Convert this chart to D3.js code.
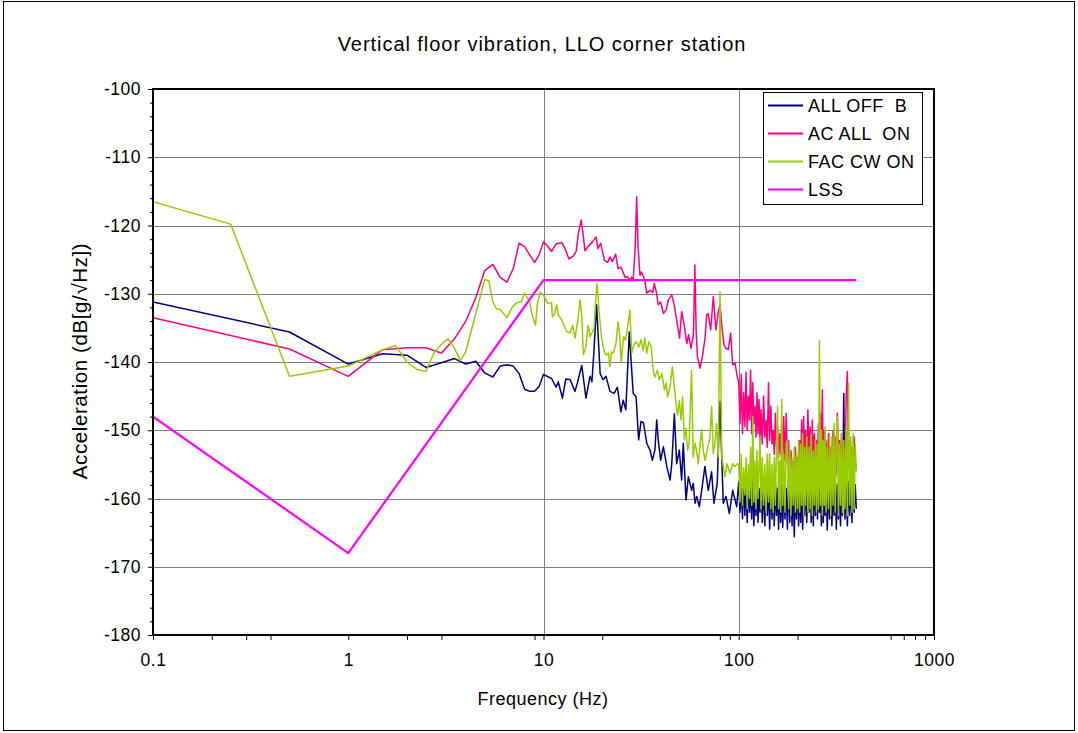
<!DOCTYPE html>
<html><head><meta charset="utf-8">
<script src="https://cdn.jsdelivr.net/npm/d3@7"></script>
<style>
body{margin:0;background:#fff;}
text{font-family:"Liberation Sans",Arial,sans-serif;fill:#000;}
</style>
</head><body>
<svg id="c" width="1078" height="733"></svg>
<script>
// ---------- DATA ----------
const seriesNames = ["ALL OFF  B", "AC ALL  ON", "FAC CW ON", "LSS"];
const seriesColors = ["#000080", "#FF0080", "#99CC00", "#FF00FF"];

// ALL OFF B (0.1 - 100 Hz)
const offF = [0.1,0.5,1,1.5,2,2.5,3,3.5,4,4.5,5,5.5,6,6.5,7,7.5,8,8.5,9,9.5,10,10.6,11,11.6,11.9,12.5,13,13.7,14.5,14.9,15.7,16.5,17.3,17.7,18.1,18.7,19.5,20.2,20.9,21.9,23,23.9,24.9,25.6,26.4,27.5,28.8,29.8,30.7,31.6,32.5,33.8,35.1,36.1,37.2,38,38.7,39.8,41.1,42.8,44.5,45.4,46.8,48.1,49.6,51,52,53.7,55.2,57.4,58.5,59.7,60.9,62.8,64.6,67.1,69.8,72.6,74.6,77.6,80.1,83.3,86,89.5,93.1,97.6];
const offV = [-131.2,-135.6,-140.3,-138.8,-139.0,-140.8,-140.1,-139.5,-140.3,-139.9,-141.6,-142.2,-140.6,-140.4,-140.6,-141.7,-144.0,-144.3,-144.3,-143.6,-141.8,-142.2,-142.4,-143.7,-142.9,-145.3,-142.5,-142.6,-144.3,-143.1,-140.5,-145.3,-142.1,-142.9,-138.7,-131.6,-141.7,-142.6,-142.1,-144.3,-144.6,-143.7,-147.3,-145.6,-147.0,-135.6,-144.6,-145.1,-151.4,-148.7,-148.9,-151.9,-152.9,-154.4,-152.9,-148.5,-151.4,-154.4,-152.4,-155.3,-157.3,-154.9,-147.6,-154.9,-152.9,-157.3,-151.9,-160.2,-156.8,-158.8,-157.8,-160.7,-159.7,-161.2,-158.8,-155.3,-158.8,-156.1,-160.7,-157.8,-145.8,-160.7,-159.7,-162.2,-158.8,-161.2];

// AC ALL ON (0.1 - 100 Hz)
const acF = [0.1,0.5,1,1.5,2,2.5,3,3.5,4,4.5,5,5.5,6,6.5,7,7.5,8,8.5,9,9.5,10,10.4,11,11.6,12.4,12.9,13.5,14.2,14.7,15.1,15.6,16,16.3,16.9,17.8,18.6,19,19.6,20,20.5,21.3,21.9,22.5,23.4,24.1,24.9,25.6,26.2,26.9,27.6,28.3,28.8,29.5,30,30.5,31.2,31.7,33,33.8,35.1,36.3,36.9,37.8,38.7,39.8,41.1,42.5,43.6,45.4,46.7,47.9,49.8,51,52.7,54.2,55.3,57,58.6,59.6,60.5,61.4,63.3,65.3,67.2,68.5,69.8,71.8,74.1,76.4,78.6,80.2,82,84,86,88.3,90.9,93.1,95.7,98.4];
const acV = [-133.5,-138.1,-142.1,-138.2,-137.9,-137.9,-138.7,-136.6,-134.0,-130.6,-126.6,-125.7,-127.6,-128.3,-126.3,-122.6,-123.1,-124.3,-125.4,-124.3,-122.4,-122.9,-123.8,-122.7,-122.5,-123.4,-124.9,-124.5,-123.8,-121.1,-119.2,-121.6,-123.7,-123.1,-122.4,-121.7,-123.4,-122.6,-123.6,-125.1,-125.4,-124.6,-125.3,-124.2,-126.3,-126.1,-126.9,-127.6,-127.5,-128.0,-127.6,-128.0,-123.1,-115.8,-123.1,-127.3,-126.8,-128.0,-129.9,-129.5,-129.8,-128.5,-129.7,-131.6,-131.2,-132.9,-132.4,-130.9,-130.2,-131.6,-133.6,-136.5,-132.6,-134.8,-137.3,-136.0,-138.0,-136.0,-125.8,-135.3,-139.2,-140.9,-139.0,-136.5,-133.1,-132.9,-135.3,-130.4,-135.3,-132.6,-131.6,-134.8,-137.5,-138.0,-138.2,-135.8,-140.4,-140.2,-142.2];

// FAC CW ON (0.1 - 100 Hz)
const fcF = [0.1,0.25,0.5,1,1.5,1.75,2,2.25,2.5,2.75,3,3.25,3.5,3.75,4,4.5,5,5.25,5.5,5.75,6,6.5,6.9,7.3,7.7,8,8.5,8.7,9.1,9.3,9.6,10,10.5,11,11.1,11.4,11.7,11.9,12.4,12.8,13.2,13.7,14.1,14.5,15,15.4,15.7,16,16.5,16.9,17.3,17.8,18.2,18.5,18.8,19.3,19.8,20.4,20.9,21.5,21.9,22.3,22.8,23.5,24.1,24.6,25,25.7,26.3,27,27.7,28.3,29,29.9,30.8,31.6,32.4,33,33.8,34.6,35.6,36.5,37.2,38.3,39.2,40.4,41.6,42.5,43.2,44.5,45.7,46.8,47.7,48.6,49.6,50.6,51.6,52.6,53.6,54.7,55.7,57.3,58.4,59.7,60.8,62,64.5,65.8,67.2,69,71.2,72.6,74,75.5,77,78.6,80.2,81.8,83.3,85,87,90.2,93.1,95.7,98.4];
const fcV = [-116.5,-119.8,-142.1,-140.6,-138.2,-137.6,-140.0,-141.1,-141.4,-138.6,-137.4,-136.6,-138.0,-139.8,-138.5,-132.9,-127.9,-128.1,-131.2,-132.2,-132.3,-133.5,-132.0,-131.3,-131.2,-129.9,-131.2,-132.9,-134.6,-131.6,-129.8,-130.2,-131.4,-131.3,-133.4,-132.9,-131.6,-133.1,-133.8,-134.8,-135.6,-135.7,-134.6,-136.5,-133.8,-130.9,-133.1,-138.9,-137.8,-134.6,-136.3,-135.6,-134.8,-130.9,-128.5,-132.9,-136.3,-138.3,-139.0,-138.7,-140.7,-138.5,-138.7,-137.3,-134.1,-136.3,-140.0,-136.3,-136.8,-134.8,-132.4,-138.7,-137.5,-137.0,-137.8,-136.7,-138.3,-136.5,-138.7,-137.0,-137.8,-141.4,-142.2,-141.2,-142.6,-141.7,-144.1,-143.1,-145.1,-143.6,-140.7,-143.6,-146.1,-147.8,-145.6,-148.5,-145.1,-151.4,-149.7,-152.9,-151.9,-141.2,-153.9,-151.9,-152.9,-154.9,-149.9,-152.9,-154.4,-152.9,-150.9,-146.5,-153.4,-151.9,-149.0,-153.9,-129.7,-153.9,-155.3,-156.8,-154.9,-156.3,-154.9,-155.3,-154.9];

// High band (100 - 400 Hz), frequencies shared by the three measured series
const hiF = [100,101.5,103,104.5,106,107.5,109,110.5,112,113.5,115,116.5,118,119.5,121,122.5,124,125.5,127,128.5,130,
  132,134,136,138,140,142,144,146,148,150,152,154,156,158,160,162,164,166,168,170,
  172.5,175,177.5,180,182.5,185,187.5,190,192.5,195,197.5,200,202.5,205,207.5,210,212.5,215,217.5,220,
  223,226,229,232,235,238,241,244,247,250,253,256,259,262,265,268,271,274,277,280,
  284,288,292,296,300,304,308,312,316,320,324,328,332,336,340,
  345,350,355,360,365,370,375,380,385,390,395,400];
const offHiV = [-157.5,-162.0,-158.5,-163.0,-157.0,-162.5,-158.0,-163.5,-157.5,-162.0,-158.5,-163.0,-157.0,-164.0,-158.0,-162.5,-157.5,-163.5,-158.5,-162.0,-157.0,
  -163.5,-158.0,-164.0,-157.5,-162.5,-158.5,-164.5,-157.0,-163.0,-158.0,-164.0,-157.5,-162.5,-158.5,-164.5,-157.0,-163.5,-158.0,-164.2,-157.5,
  -163.0,-158.5,-164.5,-157.0,-163.5,-158.0,-164.0,-157.5,-165.6,-158.5,-163.0,-157.0,-164.0,-158.0,-163.5,-157.5,-164.5,-158.5,-162.5,-157.0,
  -163.5,-158.0,-162.0,-157.5,-163.5,-158.5,-164.0,-157.0,-162.5,-158.0,-163.0,-157.5,-162.0,-158.5,-164.0,-157.0,-163.5,-158.0,-162.5,-157.5,
  -164.6,-158.0,-163.0,-157.5,-164.0,-158.5,-162.5,-157.0,-164.5,-158.0,-163.0,-157.5,-164.0,-158.5,-162.5,
  -144.6,-163.0,-158.0,-164.0,-157.5,-162.5,-158.0,-163.5,-157.5,-162.0,-158.0,-161.5];
const acHiV = [-143.0,-149.0,-141.8,-150.5,-144.5,-149.5,-141.5,-150.0,-145.0,-148.5,-141.2,-150.5,-143.0,-149.0,-146.5,-151.0,-144.5,-150.5,-145.5,-151.5,-147.0,
  -152.0,-145.0,-151.0,-148.5,-152.5,-143.0,-151.5,-146.5,-152.0,-150.0,-153.5,-147.5,-152.5,-149.5,-154.0,-150.5,-153.5,-149.0,-155.0,-148.0,
  -154.5,-147.5,-155.0,-151.5,-155.5,-153.0,-156.0,-154.5,-157.0,-152.5,-156.5,-154.0,-156.0,-151.5,-155.5,-148.5,-155.0,-148.0,-154.5,-150.0,
  -155.5,-147.0,-154.0,-149.5,-155.5,-148.5,-154.5,-150.5,-156.0,-151.5,-155.0,-149.0,-156.5,-147.5,-155.0,-144.1,-155.5,-150.0,-156.0,-151.5,
  -156.5,-150.5,-155.5,-152.5,-156.0,-150.0,-155.5,-151.0,-156.5,-147.5,-155.0,-151.5,-156.0,-150.5,-155.5,
  -152.5,-156.0,-145.0,-141.4,-155.5,-151.5,-156.0,-152.5,-156.5,-151.0,-155.5,-155.0];
const fcHiV = [-155.0,-160.5,-153.5,-161.0,-155.5,-159.5,-154.0,-161.5,-155.0,-160.0,-152.5,-161.0,-148.0,-160.5,-154.5,-161.5,-153.0,-160.0,-155.5,-150.9,-161.5,
  -154.0,-161.0,-155.0,-162.0,-153.5,-160.5,-153.4,-161.5,-155.0,-162.0,-154.0,-161.0,-152.5,-146.5,-161.5,-154.5,-162.0,-145.5,-161.0,-153.5,
  -162.0,-152.0,-151.4,-161.5,-153.0,-162.5,-154.0,-161.0,-152.5,-162.0,-153.5,-161.5,-151.5,-162.0,-152.0,-161.0,-150.5,-162.5,-152.5,-161.0,
  -151.0,-162.0,-152.5,-161.5,-150.5,-162.5,-153.0,-161.0,-151.5,-162.0,-152.0,-161.5,-136.8,-161.0,-150.0,-162.5,-151.5,-161.0,-149.5,-162.0,
  -152.5,-161.5,-150.5,-162.5,-151.0,-161.0,-149.0,-162.0,-151.5,-148.0,-162.5,-152.0,-161.0,-150.5,-162.0,
  -151.5,-161.5,-149.5,-162.5,-143.1,-161.0,-151.0,-162.0,-150.5,-161.5,-152.0,-156.0];

// LSS
const lssF = [0.1, 1, 10, 400];
const lssV = [-148, -168, -128, -128];

// Axes
const xMajorTicks = [0.1, 1, 10, 100, 1000];
const xMinorTicks = [0.2, 0.3, 0.4, 2, 3, 9, 20, 80, 90, 200, 600, 700, 800, 900];
const xGridTicks = [10, 100];
const yMajorTicks = [-180, -170, -160, -150, -140, -130, -120, -110, -100];
const yGridTicks = [-170, -160, -150, -140, -130, -120, -110];

const titleText = "Vertical floor vibration, LLO corner station";
const xTitle = "Frequency (Hz)";
const yTitle = "Acceleration (dB[g/\u221AHz])";

// ---------- CHART ----------
const svg = d3.select("#c");
const P = {l:153, r:934, t:89, b:635};
const x = d3.scaleLog().domain([0.1, 1000]).range([P.l, P.r]);
const y = d3.scaleLinear().domain([-180, -100]).range([P.b, P.t]);

svg.append("rect").attr("x",3.5).attr("y",1.5).attr("width",1071).attr("height",729)
  .attr("fill","#fff").attr("stroke","#000").attr("stroke-width",1);

svg.append("rect").attr("x",P.l).attr("y",P.t).attr("width",P.r-P.l).attr("height",P.b-P.t).attr("fill","#fff");

// gridlines
svg.append("g").selectAll("line").data(yGridTicks).join("line")
  .attr("x1",P.l).attr("x2",P.r)
  .attr("y1",d=>Math.round(y(d))+0.5).attr("y2",d=>Math.round(y(d))+0.5)
  .attr("stroke","#808080").attr("stroke-width",1);
svg.append("g").selectAll("line").data(xGridTicks).join("line")
  .attr("y1",P.t).attr("y2",P.b)
  .attr("x1",d=>Math.round(x(d))+0.5).attr("x2",d=>Math.round(x(d))+0.5)
  .attr("stroke","#808080").attr("stroke-width",1);

// series
const zip = (f, v) => f.map((d,i)=>[d, v[i]]);
const series = [
  zip(offF, offV).concat(zip(hiF, offHiV)),
  zip(acF, acV).concat(zip(hiF, acHiV)),
  zip(fcF, fcV).concat(zip(hiF, fcHiV)),
  zip(lssF, lssV)
];
const line = d3.line().x(d=>x(d[0])).y(d=>y(d[1]));
svg.append("defs").append("clipPath").attr("id","clip").append("rect")
  .attr("x",P.l).attr("y",P.t).attr("width",P.r-P.l).attr("height",P.b-P.t);
const sg = svg.append("g").attr("clip-path","url(#clip)");
series.forEach((s,i)=>{
  sg.append("path").datum(s).attr("d",line).attr("fill","none")
    .attr("stroke",seriesColors[i]).attr("stroke-width", i===3 ? 2.2 : 1.5)
    .attr("stroke-linejoin","round");
});

// axes
const yAxis = d3.axisLeft(y).tickValues(yMajorTicks).tickSize(5).tickPadding(7).tickSizeOuter(0).tickFormat(d=>String(d));
const yMinorAxis = d3.axisLeft(y).tickValues(d3.range(-180,-99,2).filter(v=>v%10!==0)).tickSize(3).tickFormat("").tickSizeOuter(0);
const xAxis = d3.axisBottom(x).tickValues(xMajorTicks).tickSize(5).tickPadding(14).tickFormat(d=>String(d)).tickSizeOuter(0);
const xMinorAxis = d3.axisBottom(x).tickValues(xMinorTicks).tickSize(5).tickFormat("").tickSizeOuter(0);

function styleAxis(g){
  g.select(".domain").remove();
  g.selectAll("line").attr("stroke","#000");
  g.selectAll("text").style("font-family","'Liberation Sans',Arial,sans-serif")
    .style("font-size","17.5px").style("letter-spacing","0.5px").attr("fill","#000");
}
svg.append("g").attr("transform",`translate(${P.l},0)`).call(yMinorAxis).call(styleAxis);
svg.append("g").attr("transform",`translate(${P.l},0)`).call(yAxis).call(styleAxis);
svg.append("g").attr("transform",`translate(0,${P.b})`).call(xMinorAxis).call(styleAxis);
svg.append("g").attr("transform",`translate(0,${P.b})`).call(xAxis).call(styleAxis);

// plot border
svg.append("rect").attr("x",P.l).attr("y",P.t).attr("width",P.r-P.l).attr("height",P.b-P.t)
  .attr("fill","none").attr("stroke","#000").attr("stroke-width",2);

// titles
svg.append("text").attr("x",542).attr("y",51).attr("text-anchor","middle")
  .style("font-size","20px").style("letter-spacing","0.95px").text(titleText);
svg.append("text").attr("x",543).attr("y",705).attr("text-anchor","middle")
  .style("font-size","18px").style("letter-spacing","0.5px").text(xTitle);
svg.append("text").attr("transform","translate(87,361) rotate(-90)").attr("text-anchor","middle")
  .style("font-size","20.5px").style("letter-spacing","0.6px").text(yTitle);

// legend
const lg = svg.append("g");
lg.append("rect").attr("x",763.5).attr("y",92.5).attr("width",159).attr("height",112)
  .attr("fill","#fff").attr("stroke","#000").attr("stroke-width",1);
const li = lg.selectAll("g.item").data(seriesNames).join("g").attr("class","item")
  .attr("transform",(d,i)=>`translate(0,${105.5 + i*28})`);
li.append("line").attr("x1",768).attr("x2",803).attr("y1",0).attr("y2",0)
  .attr("stroke",(d,i)=>seriesColors[i]).attr("stroke-width",2);
li.append("text").attr("x",808).attr("y",0).attr("dy","0.35em")
  .style("font-size","18px").style("letter-spacing","0.5px").style("white-space","pre")
  .attr("xml:space","preserve").text(d=>d);
</script>
</body></html>
